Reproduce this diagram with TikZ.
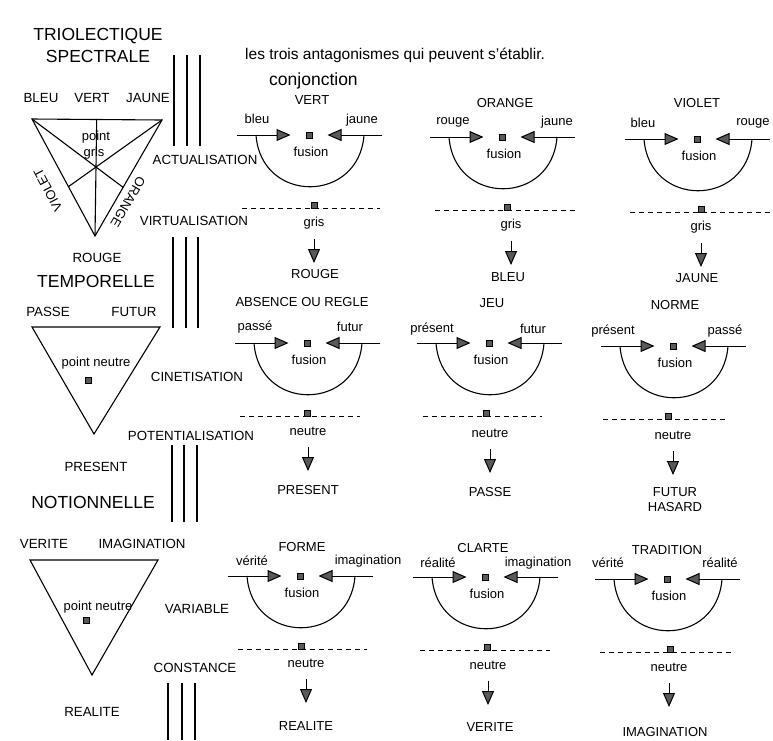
\documentclass[tikz,border=0pt]{standalone}
\usepackage{fontspec}
\setmainfont{Liberation Sans}
\usetikzlibrary{arrows.meta}
\newcommand{\fsz}[1]{\fontsize{#1}{#1}\selectfont}
% fusion unit: name, cx, arrow y, dash left x, dash right x, neutral square x
\newcommand{\fusunit}[6]{%
  \node[sq] (#1f) at (#2,#3) {};
  \node[lbl] (#1fu) at ({#2+2},{#3+17}) {fusion};
  \coordinate (#1al) at ({#2-72},#3);
  \coordinate (#1ar) at ({#2+73},#3);
  \draw[harrow, shorten >=15pt] (#1al) -- (#1f);
  \draw[harrow, shorten >=15pt] (#1ar) -- (#1f);
  \coordinate (#1cl) at ({#2-53},#3);
  \coordinate (#1cr) at ({#2+55},#3);
  \draw[ucurve] (#1cl) .. controls +(5,69) and +(-5,69) .. (#1cr);
  \coordinate (#1dl) at (#4,{#3+73});
  \coordinate (#1dr) at (#5,{#3+73});
  \draw[dline] (#1dl) -- (#1dr);
  \node[sq] (#1n) at (#6,{#3+70}) {};
}
% middle word with down arrow: name, x, y, word
\newcommand{\midword}[4]{%
  \node[lbl] (#1m) at (#2,#3) {#4};
  \coordinate (#1tip) at (#2,{#3+40});
  \draw[harrow, shorten <=16pt] (#1m.center) -- (#1tip);
}
\begin{document}
\begin{tikzpicture}[x=1pt,y=-1pt,
  lbl/.style={font=\fsz{13}, inner sep=0pt},
  side/.style={font=\fsz{13.3}, inner sep=0pt},
  big/.style={font=\fsz{17.5}, inner sep=0pt},
  sq/.style={draw=black, fill=black!65, minimum size=6.5pt, inner sep=0pt, line width=0.5pt},
  harrow/.style={line width=1pt, -{Triangle[length=14pt,width=12pt,fill=black!65]}},
  ucurve/.style={line width=1.1pt},
  dline/.style={line width=1pt, dash pattern=on 5pt off 4pt},
  edge/.style={line width=1.1pt, line join=miter},
  bar/.style={line width=1.1pt}]
\useasboundingbox (0,0) rectangle (773,740);
\fill[white] (0,0) rectangle (773,740);

% ---------- header ----------
\node[big] (h1) at (98,36) {TRIOLECTIQUE};
\node[big] (h2) at (98,56) {SPECTRALE};
\node[font=\fsz{15.5}, inner sep=0pt, anchor=base west] (h3) at (245,59) {les trois antagonismes qui peuvent s'établir.};
\node[font=\fsz{17.5}, inner sep=0pt, anchor=base west] (h4) at (269,85) {conjonction};

% ---------- triple bars ----------
\foreach \x in {174,187,200} \draw[bar] (\x,55) -- (\x,146);
\foreach \x in {173,186,198} \draw[bar] (\x,237) -- (\x,328);
\foreach \x in {172,184,197} \draw[bar] (\x,445) -- (\x,522);
\foreach \x in {168,182,195} \draw[bar] (\x,683) -- (\x,740);

% ---------- triangle 1 (spectrale) ----------
\node[side] (tBleu) at (41,98) {BLEU};
\node[side] (tVert) at (92,98) {VERT};
\node[side] (tJaune) at (148,98) {JAUNE};
\coordinate (T1a) at (32,119);
\coordinate (T1b) at (162,120);
\coordinate (T1c) at (95,236);
\coordinate (T1p) at (96,167);
\draw[edge] (T1a) -- (T1b) -- (T1c) -- cycle;
\draw[edge] (T1a) -- (intersection of T1a--T1p and T1b--T1c);
\draw[edge] (T1b) -- (intersection of T1b--T1p and T1a--T1c);
\draw[edge] (T1c) -- (intersection of T1c--T1p and T1a--T1b);
\node[lbl] (tPoint) at (96,137) {point};
\node[lbl] (tGris) at (94,153) {gris};
\node[lbl, rotate=118] (tViolet) at (48,190) {VIOLET};
\node[lbl, rotate=-120] (tOrange) at (128,202) {ORANGE};
\node[side] (tRouge) at (97,258) {ROUGE};
\node[big] (tTemp) at (96,281) {TEMPORELLE};
\node[side] (lAct) at (205,160) {ACTUALISATION};
\node[side] (lVirt) at (194,221) {VIRTUALISATION};

% ---------- triangle 2 (temporelle) ----------
\node[side] (tPasse) at (48,312) {PASSE};
\node[side] (tFutur) at (134,312) {FUTUR};
\coordinate (T2a) at (32,327);
\coordinate (T2b) at (160,327);
\coordinate (T2c) at (94,434);
\draw[edge] (T2a) -- (T2b) -- (T2c) -- cycle;
\node[lbl] (tPN2) at (96,363) {point neutre};
\node[sq] (tSq2) at (88,380) {};
\node[side] (tPresent) at (96,467) {PRESENT};
\node[big] (tNotion) at (93,502) {NOTIONNELLE};
\node[side] (lCin) at (197,377) {CINETISATION};
\node[side] (lPot) at (191,436) {POTENTIALISATION};

% ---------- triangle 3 (notionnelle) ----------
\node[side] (tVerite) at (44,544) {VERITE};
\node[side] (tImag) at (142,544) {IMAGINATION};
\coordinate (T3a) at (30,560);
\coordinate (T3b) at (158,560);
\coordinate (T3c) at (92,675);
\draw[edge] (T3a) -- (T3b) -- (T3c) -- cycle;
\node[lbl] (tPN3) at (98,607) {point neutre};
\node[sq] (tSq3) at (86,620) {};
\node[side] (tRealite) at (92,712) {REALITE};
\node[side] (lVar) at (197,609) {VARIABLE};
\node[side] (lCons) at (195,668) {CONSTANCE};

% ---------- row 1 ----------
\fusunit{A}{309}{135}{242}{380}{314}
\node[lbl] (AT) at (312,100) {VERT};
\node[lbl] (AL) at (257,119) {bleu};
\node[lbl] (AR) at (362,120) {jaune};
\midword{A}{314}{223}{gris}
\node[lbl] (Ab) at (315,274) {ROUGE};

\fusunit{B}{502}{137}{435}{575}{507}
\node[lbl] (BT) at (505,103) {ORANGE};
\node[lbl] (BL) at (453,122) {rouge};
\node[lbl] (BR) at (557,122) {jaune};
\midword{B}{511}{225}{gris}
\node[lbl] (Bb) at (508,277) {BLEU};

\fusunit{C}{697}{139}{630}{773}{701}
\node[lbl] (CT) at (697,103) {VIOLET};
\node[lbl] (CL) at (643,123) {bleu};
\node[lbl] (CR) at (753,123) {rouge};
\midword{C}{701}{227}{gris}
\node[lbl] (Cb) at (697,278) {JAUNE};

% ---------- row 2 ----------
\fusunit{D}{307}{343}{240}{360}{307}
\node[lbl] (DT) at (302,302) {ABSENCE OU REGLE};
\node[lbl] (DL) at (255,327) {passé};
\node[lbl] (DR) at (350,327) {futur};
\midword{D}{308}{431}{neutre}
\node[lbl] (Db) at (308,490) {PRESENT};

\fusunit{E}{489}{343}{423}{542}{486}
\node[lbl] (ET) at (492,303) {JEU};
\node[lbl] (EL) at (432,329) {présent};
\node[lbl] (ER) at (533,329) {futur};
\midword{E}{490}{433}{neutre}
\node[lbl] (Eb) at (490,492) {PASSE};

\fusunit{F}{673}{346}{603}{725}{668}
\node[lbl] (FT) at (675,305) {NORME};
\node[lbl] (FL) at (613,331) {présent};
\node[lbl] (FR) at (725,331) {passé};
\midword{F}{673}{435}{neutre}
\node[lbl, align=center] (Fb) at (675,500) {FUTUR\\[2pt]HASARD};

% ---------- row 3 ----------
\fusunit{G}{300}{576}{238}{367}{301}
\node[lbl] (GT) at (302,547) {FORME};
\node[lbl] (GL) at (252,561) {vérité};
\node[lbl] (GR) at (368,561) {imagination};
\midword{G}{306}{663}{neutre}
\node[lbl] (Gb) at (306,726) {REALITE};

\fusunit{H}{485}{577}{420}{550}{487}
\node[lbl] (HT) at (483,548) {CLARTE};
\node[lbl] (HL) at (438,563) {réalité};
\node[lbl] (HR) at (538,563) {imagination};
\midword{H}{488}{665}{neutre}
\node[lbl] (Hb) at (490,727) {VERITE};

\fusunit{K}{667}{579}{600}{733}{670}
\node[lbl] (KT) at (667,550) {TRADITION};
\node[lbl] (KL) at (608,563) {vérité};
\node[lbl] (KR) at (720,563) {réalité};
\midword{K}{669}{667}{neutre}
\node[lbl] (Kb) at (665,732) {IMAGINATION};
\end{tikzpicture}
\end{document}
